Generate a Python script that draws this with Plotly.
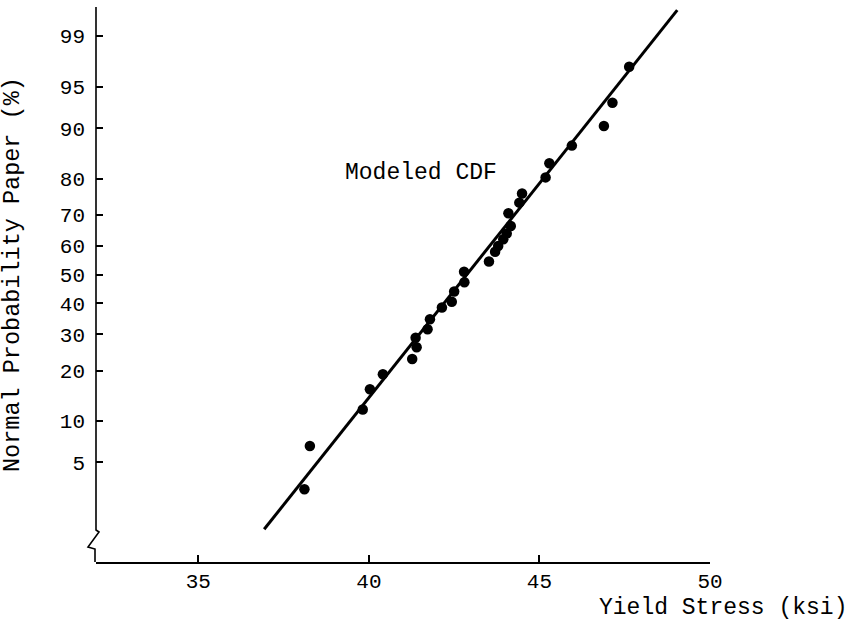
from statistics import NormalDist
import plotly.graph_objects as go

# ---- data ----
X_KSI = [38.11, 38.27, 39.82, 40.03, 40.41, 41.27, 41.40, 41.37, 41.72, 41.79,
         42.14, 42.43, 42.50, 42.80, 42.79, 43.52, 43.70, 43.79, 43.94, 44.04,
         44.16, 44.09, 44.41, 44.49, 45.18, 45.29, 45.95, 46.89, 47.14, 47.63]
PCT = [2.99, 6.64, 11.84, 15.73, 19.1, 22.96, 26.19, 29.0, 31.57, 34.75,
       38.65, 40.6, 44.1, 47.3, 51.0, 54.6, 57.96, 59.9, 62.15, 64.1,
       66.5, 70.45, 73.6, 76.15, 80.3, 83.55, 87.1, 90.37, 93.4, 96.58]

MODEL_MEAN = 42.87
MODEL_SD = 2.66
MODEL_X = [36.93, 49.04]

Y_TICK_PCT = [5, 10, 20, 30, 40, 50, 60, 70, 80, 90, 95, 99]
Y_TICK_TEXT = ["5", "10", "20", "30", "40", "50", "60", "70", "80", "90", "95", "99"]
X_TICKS = [35, 40, 45, 50]
X_TICK_TEXT = ["35", "40", "45", "50"]

nd = NormalDist()
pts_z = [nd.inv_cdf(p / 100.0) for p in PCT]
line_z = [(x - MODEL_MEAN) / MODEL_SD for x in MODEL_X]
tick_z = [nd.inv_cdf(p / 100.0) for p in Y_TICK_PCT]
tick_z[-1] = 2.092  # the paper's 99 line sits lower than a true probit position

FONT = "Liberation Mono, Courier New, monospace"

W, H = 859, 623
L, R, T, B = 96, 149, 7, 61
PW, PH = W - L - R, H - T - B


def px(x):
    return (x - L) / PW


def py(y):
    return (H - B - y) / PH


fig = go.Figure()
fig.add_trace(go.Scatter(x=MODEL_X, y=line_z, mode="lines",
                         line=dict(color="black", width=3), showlegend=False,
                         hoverinfo="skip"))
fig.add_trace(go.Scatter(x=X_KSI, y=pts_z, mode="markers",
                         marker=dict(color="black", size=10.5, symbol="circle",
                                     line=dict(width=0)),
                         showlegend=False))

# y-axis line with break symbol
path = "M {} {} L {} {} L {} {} L {} {} L {} {} L {} {}".format(
    px(96), py(7), px(96), py(530), px(99), py(532), px(88), py(547),
    px(95), py(549), px(95), py(562))
fig.add_shape(type="path", path=path, xref="paper", yref="paper",
              line=dict(color="black", width=1.6))

fig.add_annotation(x=39.24, y=0.895, xref="x", yref="y", text="Modeled CDF",
                   showarrow=False, xanchor="left", yanchor="middle",
                   font=dict(family=FONT, size=23, color="black"))
fig.add_annotation(x=px(12.5), y=py(274.5), xref="paper", yref="paper",
                   text="Normal Probability Paper (%)", textangle=-90,
                   showarrow=False, xanchor="center", yanchor="middle",
                   font=dict(family=FONT, size=23.5, color="black"))
fig.add_annotation(x=px(723), y=py(608), xref="paper", yref="paper",
                   text="Yield Stress (ksi)", showarrow=False,
                   xanchor="center", yanchor="middle",
                   font=dict(family=FONT, size=23, color="black"))

fig.update_xaxes(range=[32, 50], tickvals=X_TICKS, ticktext=X_TICK_TEXT,
                 ticks="inside", ticklen=7, tickwidth=1.6, tickcolor="black",
                 showline=True, linecolor="black", linewidth=1.6,
                 showgrid=False, zeroline=False, ticklabelstandoff=-1,
                 tickfont=dict(family=FONT, size=21, color="black"))
fig.update_yaxes(range=[(274.6 - 562) / 114.04, (274.6 - 7) / 114.04],
                 tickvals=tick_z, ticktext=Y_TICK_TEXT,
                 ticks="inside", ticklen=7, tickwidth=1.6, tickcolor="black",
                 showline=False, showgrid=False, zeroline=False,
                 ticklabelstandoff=10,
                 tickfont=dict(family=FONT, size=21, color="black"))

fig.update_layout(width=W, height=H, margin=dict(l=L, r=R, t=T, b=B),
                  paper_bgcolor="white", plot_bgcolor="white")

fig.write_html("out.html")
